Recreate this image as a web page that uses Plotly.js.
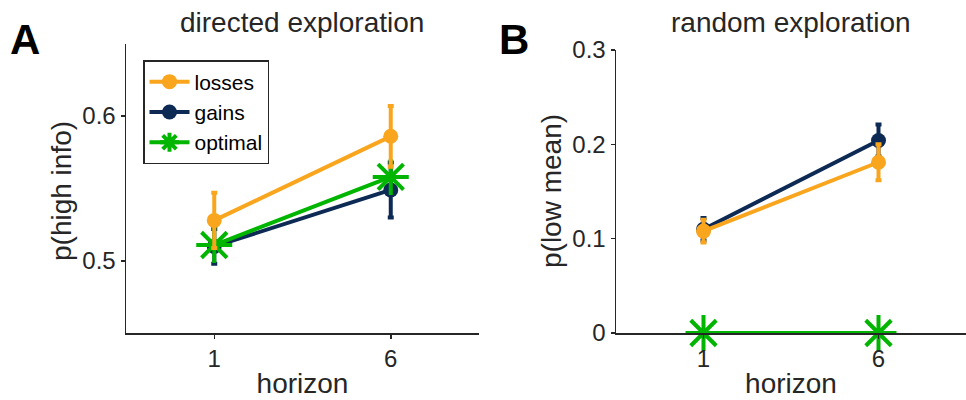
<!DOCTYPE html>
<html>
<head>
<meta charset="utf-8">
<script src="https://cdn.plot.ly/plotly-3.0.1.min.js"></script>
<style>html,body{margin:0;padding:0;background:#fff;}#chart{width:966px;height:400px;}</style>
</head>
<body>
<div id="chart"></div>
<script>
// categories
const horizonPos = [1, 2];
const horizonLabels = ['1', '6'];

// Panel A: directed exploration, p(high info)
const dirLosses = [0.528, 0.586];
const dirLossesErr = [0.019, 0.021];
const dirGains = [0.510, 0.549];
const dirGainsErr = [0.012, 0.019];
const dirOptimal = [0.511, 0.558];

// Panel B: random exploration, p(low mean)
const rndLosses = [0.108, 0.181];
const rndLossesErr = [0.012, 0.019];
const rndGains = [0.110, 0.204];
const rndGainsErr = [0.012, 0.017];
const rndOptimal = [0, 0];

const cOrange = '#F9A61E';
const cNavy = '#0D2A55';
const cGreen = '#00B500';
const font = 'Liberation Sans, Arial, sans-serif';
const ink = '#262626';

function dataTrace(y, err, color, name, xa, ya, show, rank) {
  return {
    x: horizonPos, y: y, name: name, xaxis: xa, yaxis: ya,
    type: 'scatter', mode: 'lines+markers', showlegend: show, legendrank: rank,
    line: {color: color, width: 4},
    marker: {color: color, size: 15, symbol: 'circle'},
    error_y: {type: 'data', array: err, visible: true, color: color, thickness: 4, width: 3},
    cliponaxis: false
  };
}
function optTrace(y, xa, ya, show) {
  return {
    x: horizonPos, y: y, name: 'optimal', xaxis: xa, yaxis: ya,
    type: 'scatter', mode: 'lines+markers', showlegend: show, legendrank: 3,
    line: {color: cGreen, width: 4},
    marker: {color: cGreen, size: 30, symbol: 'asterisk-open', line: {color: cGreen, width: 4}},
    cliponaxis: false
  };
}

const traces = [
  dataTrace(dirGains, dirGainsErr, cNavy, 'gains', 'x', 'y', true, 2),
  optTrace(dirOptimal, 'x', 'y', true),
  dataTrace(dirLosses, dirLossesErr, cOrange, 'losses', 'x', 'y', true, 1),
  optTrace(rndOptimal, 'x2', 'y2', false),
  dataTrace(rndGains, rndGainsErr, cNavy, 'gains', 'x2', 'y2', false, 2),
  dataTrace(rndLosses, rndLossesErr, cOrange, 'losses', 'x2', 'y2', false, 1)
];

const axisCommon = {
  showline: true, linecolor: ink, linewidth: 1.5, mirror: false,
  ticks: 'outside', ticklen: 4, tickwidth: 1.5, tickcolor: ink,
  showgrid: false, zeroline: false,
  tickfont: {family: font, size: 24, color: ink}
};
const titleFont = {family: font, size: 28, color: ink};

const layout = {
  width: 966, height: 400,
  margin: {l: 0, r: 0, t: 0, b: 0},
  paper_bgcolor: '#fff', plot_bgcolor: '#fff',
  showlegend: true,
  legend: {
    x: 143/966, y: 1 - 60/400, xanchor: 'left', yanchor: 'top',
    bgcolor: '#fff', bordercolor: ink, borderwidth: 1.5,
    font: {family: font, size: 21, color: '#000'},
    tracegroupgap: 0, itemwidth: 40
  },
  xaxis: Object.assign({}, axisCommon, {
    domain: [126/966, 479/966], range: [0.5, 2.5], anchor: 'y',
    tickmode: 'array', tickvals: horizonPos, ticktext: horizonLabels,
    title: {text: 'horizon', font: titleFont, standoff: 2}
  }),
  yaxis: Object.assign({}, axisCommon, {
    domain: [67/400, 356/400], range: [0.4503, 0.6497], anchor: 'x',
    tickmode: 'array', tickvals: [0.5, 0.6], ticktext: ['0.5', '0.6']
  }),
  xaxis2: Object.assign({}, axisCommon, {
    domain: [616/966, 1], range: [0.5, 2.5], anchor: 'y2',
    tickmode: 'array', tickvals: horizonPos, ticktext: horizonLabels,
    title: {text: 'horizon', font: titleFont, standoff: 2}
  }),
  yaxis2: Object.assign({}, axisCommon, {
    domain: [67/400, 350/400], range: [0, 0.3], anchor: 'x2',
    tickmode: 'array', tickvals: [0, 0.1, 0.2, 0.3], ticktext: ['0', '0.1', '0.2', '0.3']
  }),
  annotations: [
    {text: 'p(high info)', x: 61/966, y: 1 - 191/400, xref: 'paper', yref: 'paper', textangle: -90,
     xanchor: 'center', yanchor: 'middle', showarrow: false, font: titleFont},
    {text: 'p(low mean)', x: 551/966, y: 1 - 191/400, xref: 'paper', yref: 'paper', textangle: -90,
     xanchor: 'center', yanchor: 'middle', showarrow: false, font: titleFont},
    {text: 'directed exploration', x: 302/966, y: 1 - 22/400, xref: 'paper', yref: 'paper',
     xanchor: 'center', yanchor: 'middle', showarrow: false, font: titleFont},
    {text: 'random exploration', x: 791/966, y: 1 - 22/400, xref: 'paper', yref: 'paper',
     xanchor: 'center', yanchor: 'middle', showarrow: false, font: titleFont},
    {text: '<b>A</b>', x: 8/966, y: 1 - 40/400, xref: 'paper', yref: 'paper',
     xanchor: 'left', yanchor: 'middle', showarrow: false, font: {family: font, size: 42, color: '#000'}},
    {text: '<b>B</b>', x: 497/966, y: 1 - 40/400, xref: 'paper', yref: 'paper',
     xanchor: 'left', yanchor: 'middle', showarrow: false, font: {family: font, size: 42, color: '#000'}}
  ]
};

Plotly.newPlot('chart', traces, layout, {displayModeBar: false, staticPlot: true});
</script>
</body>
</html>
